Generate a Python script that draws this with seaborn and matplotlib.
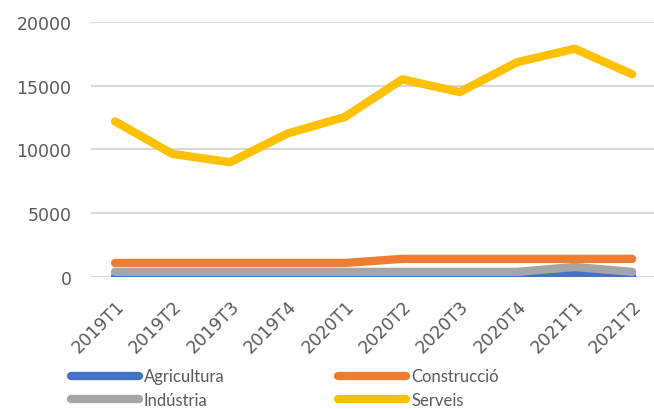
import pandas as pd
import seaborn as sns
import matplotlib.pyplot as plt

periods = ["2019T1", "2019T2", "2019T3", "2019T4", "2020T1",
           "2020T2", "2020T3", "2020T4", "2021T1", "2021T2"]
agricultura = [60, 60, 60, 60, 60, 60, 60, 60, 300, 60]
construccio = [1100, 1100, 1100, 1100, 1100, 1420, 1420, 1420, 1420, 1420]
industria = [400, 400, 400, 400, 400, 400, 400, 400, 790, 400]
serveis = [12200, 9650, 9000, 11250, 12550, 15500, 14500, 16850, 17900, 15900]

series = ["Agricultura", "Indústria", "Construcció", "Serveis"]
colors = ["#4472C4", "#A5A5A5", "#ED7D31", "#FFC000"]

df = pd.DataFrame({"period": periods * 4,
                   "x": list(range(len(periods))) * 4,
                   "value": agricultura + industria + construccio + serveis,
                   "serie": [s for s in series for _ in periods]})

sns.set_style("white")
plt.rcParams["font.family"] = ["Lato", "DejaVu Sans"]

fig = plt.figure(figsize=(6.54, 4.10), dpi=100)
ax = fig.add_axes([0.139, 0.322, 0.861, 0.622])

# draw in Excel order: agricultura, construccio, industria, serveis
order = ["Agricultura", "Construcció", "Indústria", "Serveis"]
for s in order:
    sns.lineplot(data=df[df["serie"] == s], x="x", y="value",
                 color=colors[series.index(s)], linewidth=6,
                 solid_capstyle="round", solid_joinstyle="round",
                 ax=ax, label=s)

ax.set_ylim(0, 20000)
ax.set_xlim(-0.42, 9.38)
ax.set_yticks([0, 5000, 10000, 15000, 20000])
ax.set_xticks(range(len(periods)))
ax.set_xticklabels(periods, rotation=45, ha="right", rotation_mode="anchor")
ax.yaxis.grid(True, color="#D9D9D9", linewidth=1.5)
ax.set_axisbelow(True)
for sp in ax.spines.values():
    sp.set_visible(False)
ax.tick_params(axis="both", colors="#595959", length=0)
for lbl in ax.get_xticklabels() + ax.get_yticklabels():
    lbl.set_family("DejaVu Sans")
    lbl.set_fontsize(12.5)
ax.tick_params(axis="y", pad=14)
ax.tick_params(axis="x", pad=14)
ax.set_xlabel("")
ax.set_ylabel("")

handles, labels = ax.get_legend_handles_labels()
hmap = dict(zip(labels, handles))
ax.get_legend().remove()
fig.legend([hmap[s] for s in series], series, ncol=2, loc="upper left",
           bbox_to_anchor=(0.108, 0.099), frameon=False, fontsize=12,
           labelcolor="#595959", handlelength=4.1, handletextpad=0.3,
           columnspacing=6.8, labelspacing=0.45, borderpad=0,
           borderaxespad=0)

fig.savefig("out.png", dpi=100)
